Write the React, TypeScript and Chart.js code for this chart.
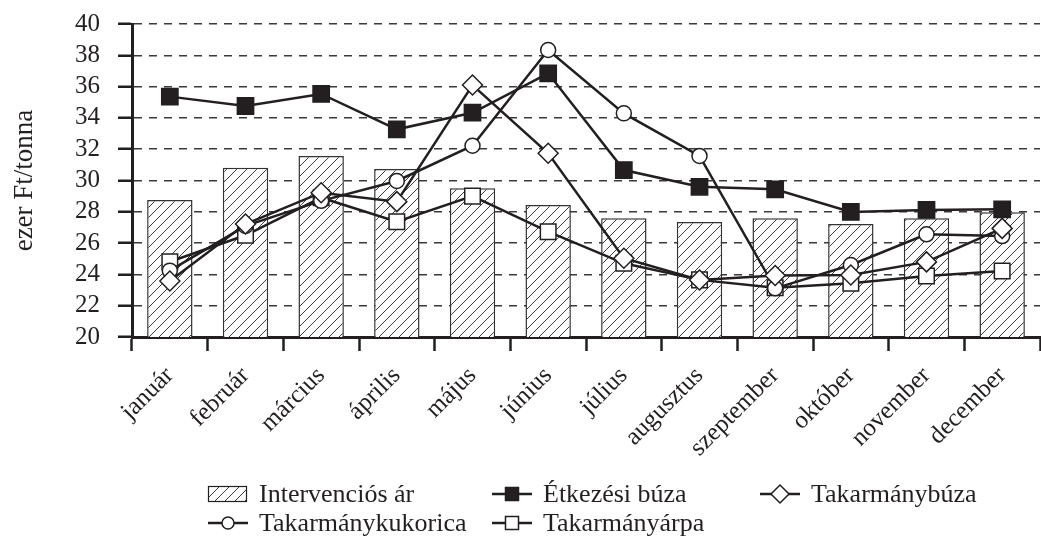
import React, { useEffect, useRef } from 'react';
import { Chart, registerables } from 'chart.js';

Chart.register(...registerables);

// ---------- data ----------
const months = ['január', 'február', 'március', 'április', 'május', 'június', 'július', 'augusztus', 'szeptember', 'október', 'november', 'december'];
const seriesNames = ['Intervenciós ár', 'Étkezési búza', 'Takarmánybúza', 'Takarmánykukorica', 'Takarmányárpa'];
const intervencios = [28.75, 30.82, 31.57, 30.73, 29.5, 28.43, 27.58, 27.35, 27.58, 27.22, 27.58, 27.97];
const etkezesiBuza = [35.36, 34.76, 35.53, 33.27, 34.33, 36.85, 30.67, 29.6, 29.44, 27.99, 28.12, 28.16];
const takarmanyBuza = [23.58, 27.22, 29.22, 28.65, 36.1, 31.74, 25.03, 23.64, 23.93, 23.96, 24.8, 26.94];
const takarmanyKukorica = [24.24, 27.1, 28.7, 29.97, 32.22, 38.34, 34.29, 31.57, 23.11, 24.6, 26.56, 26.45];
const takarmanyArpa = [24.81, 26.5, 28.9, 27.37, 29.0, 26.73, 24.71, 23.65, 23.15, 23.43, 23.9, 24.22];
const yMin = 20;
const yMax = 40;
const yStep = 2;
const yTitle = 'ezer Ft/tonna';

// ---------- style ----------
const INK = '#231f20';
const GRID = '#3a3a3a';
const FONT = "'Liberation Serif', 'Times New Roman', serif";

function makeHatch(): CanvasPattern | string {
  const c = document.createElement('canvas');
  c.width = 10;
  c.height = 10;
  const g = c.getContext('2d');
  if (!g) return '#fff';
  g.fillStyle = '#ffffff';
  g.fillRect(0, 0, 10, 10);
  g.strokeStyle = '#3a3a3a';
  g.lineWidth = 1;
  g.beginPath();
  g.moveTo(0, 10);
  g.lineTo(10, 0);
  g.moveTo(-5, 5);
  g.lineTo(5, -5);
  g.moveTo(5, 15);
  g.lineTo(15, 5);
  g.stroke();
  return g.createPattern(c, 'repeat') || '#fff';
}

function drawMarker(ctx: CanvasRenderingContext2D, style: string, x: number, y: number, r: number, fill: string) {
  ctx.beginPath();
  if (style === 'circle') {
    ctx.arc(x, y, r, 0, Math.PI * 2);
  } else if (style === 'rect') {
    ctx.rect(x - r, y - r, 2 * r, 2 * r);
  } else {
    ctx.moveTo(x - r, y);
    ctx.lineTo(x, y - r);
    ctx.lineTo(x + r, y);
    ctx.lineTo(x, y + r);
    ctx.closePath();
  }
  ctx.fillStyle = fill;
  ctx.fill();
  ctx.lineWidth = 1.5;
  ctx.strokeStyle = INK;
  ctx.stroke();
}

export default function App() {
  const ref = useRef<HTMLCanvasElement | null>(null);

  useEffect(() => {
    if (!ref.current) return;
    const hatch = makeHatch();

    const legendItems = [
      { name: seriesNames[0], kind: 'box', style: '', fill: '', r: 0, col: 0, row: 0 },
      { name: seriesNames[1], kind: 'line', style: 'rect', fill: INK, r: 6.5, col: 1, row: 0 },
      { name: seriesNames[2], kind: 'line', style: 'diamond', fill: '#fff', r: 9, col: 2, row: 0 },
      { name: seriesNames[3], kind: 'line', style: 'circle', fill: '#fff', r: 6, col: 0, row: 1 },
      { name: seriesNames[4], kind: 'line', style: 'rect', fill: '#fff', r: 6.5, col: 1, row: 1 },
    ];
    const colX = [200, 484, 752];
    const rowY = [486, 515];

    const legendPlugin = {
      id: 'customLegend',
      afterDraw(chart: any) {
        const ctx: CanvasRenderingContext2D = chart.ctx;
        ctx.save();
        legendItems.forEach((it) => {
          const x = colX[it.col];
          const y = rowY[it.row];
          if (it.kind === 'box') {
            ctx.fillStyle = hatch as any;
            ctx.fillRect(x, y - 8, 39, 16);
            ctx.lineWidth = 1.2;
            ctx.strokeStyle = INK;
            ctx.strokeRect(x + 0.5, y - 8 + 0.5, 38, 15);
          } else {
            ctx.beginPath();
            ctx.moveTo(x, y);
            ctx.lineTo(x + 40, y);
            ctx.lineWidth = 2.5;
            ctx.strokeStyle = INK;
            ctx.stroke();
            drawMarker(ctx, it.style, x + 20, y, it.r, it.fill);
          }
          ctx.fillStyle = INK;
          ctx.font = `26px ${FONT}`;
          ctx.textBaseline = 'alphabetic';
          ctx.textAlign = 'left';
          ctx.fillText(it.name, x + 51, y + 8);
        });
        ctx.restore();
      },
    };

    const lineCommon = {
      type: 'line' as const,
      borderColor: INK,
      borderWidth: 2.5,
      tension: 0,
      fill: false,
      pointBorderColor: INK,
      pointBorderWidth: 1.5,
    };

    const chart = new Chart(ref.current, {
      type: 'bar',
      data: {
        labels: months,
        datasets: [
          {
            type: 'bar',
            label: seriesNames[0],
            data: intervencios,
            backgroundColor: hatch as any,
            borderColor: '#333',
            borderWidth: 1.5,
            barPercentage: 0.6,
            categoryPercentage: 1.0,
            order: 5,
          },
          {
            ...lineCommon,
            label: seriesNames[4],
            data: takarmanyArpa,
            pointStyle: 'rect',
            pointRadius: 11,
            pointBackgroundColor: '#fff',
            order: 4,
          },
          {
            ...lineCommon,
            label: seriesNames[3],
            data: takarmanyKukorica,
            pointStyle: 'circle',
            pointRadius: 7.5,
            pointBackgroundColor: '#fff',
            order: 3,
          },
          {
            ...lineCommon,
            label: seriesNames[1],
            data: etkezesiBuza,
            pointStyle: 'rect',
            pointRadius: 11.5,
            pointBackgroundColor: INK,
            order: 2,
          },
          {
            ...lineCommon,
            label: seriesNames[2],
            data: takarmanyBuza,
            pointStyle: 'rectRot',
            pointRadius: 10,
            pointBackgroundColor: '#fff',
            order: 1,
          },
        ] as any,
      },
      options: {
        responsive: true,
        maintainAspectRatio: false,
        animation: false,
        layout: { padding: { top: 1, right: 4, bottom: 0, left: 0 } },
        plugins: {
          legend: { display: false },
          tooltip: { enabled: false },
        },
        scales: {
          x: {
            offset: true,
            grid: {
              display: true,
              offset: true,
              drawOnChartArea: false,
              drawTicks: true,
              tickLength: 14,
              tickColor: INK,
              tickWidth: 2.5,
            },
            border: { display: true, color: INK, width: 3 },
            ticks: {
              autoSkip: false,
              maxRotation: 45,
              minRotation: 45,
              padding: 10,
              color: INK,
              font: { family: FONT, size: 25 },
            },
            afterFit: (s: any) => {
              s.height = 199;
            },
          },
          y: {
            min: yMin,
            max: yMax,
            ticks: {
              stepSize: yStep,
              autoSkip: false,
              padding: 18,
              color: INK,
              font: { family: FONT, size: 25 },
            },
            grid: {
              color: GRID,
              lineWidth: 1.5,
              drawTicks: true,
              tickLength: 14,
              tickColor: INK,
              tickWidth: 2.5,
              tickBorderDash: [],
            },
            border: { display: true, color: INK, width: 3, dash: [8, 7] },
            title: {
              display: true,
              text: yTitle,
              color: INK,
              font: { family: FONT, size: 27 },
              padding: { top: 1, bottom: 0 },
            },
            afterFit: (s: any) => {
              s.width = 124;
              s.paddingTop = 16;
              s.paddingBottom = 16;
            },
          },
        },
      } as any,
      plugins: [legendPlugin],
    });

    return () => {
      chart.destroy();
    };
  }, []);

  return (
    <div style={{ position: 'absolute', left: 8, top: 8, width: 1033, height: 528, overflow: 'hidden', background: '#fff' }}>
      <div style={{ position: 'relative', width: 1045, height: 528 }}>
        <canvas ref={ref} />
      </div>
    </div>
  );
}
